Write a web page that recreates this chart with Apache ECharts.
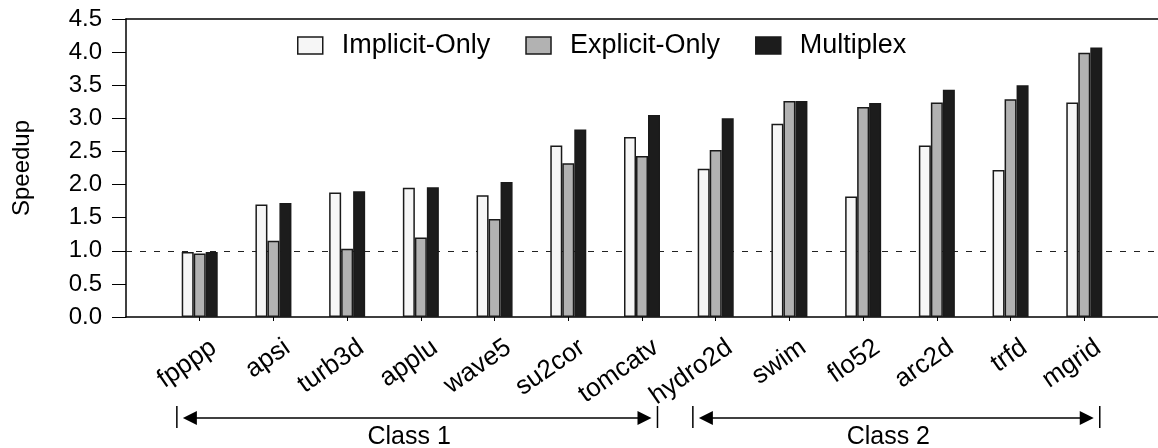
<!DOCTYPE html>
<html>
<head>
<meta charset="utf-8">
<script src="https://cdn.jsdelivr.net/npm/echarts@6/dist/echarts.min.js"></script>
<style>
html,body{margin:0;padding:0;background:#fff;}
#chart{width:1158px;height:448px;}
</style>
</head>
<body>
<div id="chart"></div>
<script>
// ---- data ----
const categories = ['fpppp','apsi','turb3d','applu','wave5','su2cor','tomcatv','hydro2d','swim','flo52','arc2d','trfd','mgrid'];
const implicitOnly = [0.98,1.70,1.88,1.95,1.84,2.59,2.72,2.24,2.92,1.82,2.59,2.22,3.24];
const explicitOnly = [0.96,1.15,1.03,1.20,1.48,2.32,2.43,2.52,3.26,3.17,3.24,3.29,3.99];
const multiplex    = [0.98,1.72,1.90,1.96,2.04,2.83,3.05,3.00,3.26,3.23,3.43,3.50,4.07];
const seriesNames = ['Implicit-Only','Explicit-Only','Multiplex'];
const yMin = 0, yMax = 4.5, yStep = 0.5;
const baseline = 1.0;
const classNames = ['Class 1','Class 2'];
const classFrom = [0, 7];
const classTo = [6, 12];

// ---- helpers ----
const FONT = "'Liberation Sans', Arial, Helvetica, sans-serif";
const padCats = [''].concat(categories, ['']);
const pad = arr => [null].concat(arr, [null]);
const fills = ['#f6f6f6', '#b2b2b2', '#1c1c1c'];
const values = [implicitOnly, explicitOnly, multiplex];

const chart = echarts.init(document.getElementById('chart'), null, {renderer: 'canvas'});

const series = seriesNames.map((name, k) => ({
  name: name,
  type: 'bar',
  xAxisIndex: 0, yAxisIndex: 0,
  data: pad(values[k]),
  barWidth: 12,
  barGap: '0%',
  z: 2,
  itemStyle: {color: fills[k], borderColor: '#1a1a1a', borderWidth: 1.5},
  emphasis: {disabled: true},
  markLine: k === 0 ? {
    silent: true, symbol: 'none', z: 1,
    label: {show: false},
    lineStyle: {color: '#222', type: [6, 8], width: 1},
    data: [{yAxis: baseline}]
  } : undefined
}));

const option = {
  animation: false,
  backgroundColor: '#fff',
  textStyle: {fontFamily: FONT, color: '#000'},
  legend: {
    data: seriesNames,
    left: 297, top: 32, padding: 0,
    icon: 'rect',
    itemWidth: 25, itemHeight: 17,
    itemGap: 35,
    itemStyle: {borderColor: '#1a1a1a', borderWidth: 1.5},
    textStyle: {fontFamily: FONT, fontSize: 27, color: '#000', padding: [0, 0, 0, 14]}
  },
  grid: [
    {left: 126, right: 0, top: 19, bottom: 131, outerBoundsMode: 'none', containLabel: false},
    {left: 126 + 14, right: -14, top: 19, bottom: 131, outerBoundsMode: 'none', containLabel: false}
  ],
  xAxis: [
    {
      type: 'category', gridIndex: 0, data: padCats, boundaryGap: false,
      axisLine: {lineStyle: {color: '#000', width: 1.5}},
      axisTick: {show: true, length: 4, inside: false, lineStyle: {color: '#000', width: 1},
                 interval: (i) => i > 0 && i < padCats.length - 1},
      axisLabel: {show: false},
      splitLine: {show: false}
    },
    {
      type: 'category', gridIndex: 0, data: padCats, boundaryGap: false, position: 'top',
      axisLine: {lineStyle: {color: '#000', width: 1.5}},
      axisTick: {show: false}, axisLabel: {show: false}, splitLine: {show: false}
    },
    {
      type: 'category', gridIndex: 1, data: padCats, boundaryGap: false,
      axisLine: {show: false}, axisTick: {show: false}, splitLine: {show: false},
      axisLabel: {show: true, interval: 0, rotate: 35, margin: 28, fontSize: 26, fontFamily: FONT, color: '#000'}
    }
  ],
  yAxis: [
    {
      type: 'value', gridIndex: 0, min: yMin, max: yMax, interval: yStep,
      name: 'Speedup', nameLocation: 'middle', nameGap: 92,
      nameTextStyle: {fontSize: 24, fontFamily: FONT, color: '#000'},
      axisLine: {show: true, lineStyle: {color: '#000', width: 1.5}},
      axisTick: {show: true, length: 14, inside: false, lineStyle: {color: '#000', width: 1}},
      axisLabel: {margin: 24, fontSize: 24, fontFamily: FONT, color: '#000', formatter: v => v.toFixed(1)},
      splitLine: {show: false}
    },
    {
      type: 'value', gridIndex: 1, min: yMin, max: yMax, show: false
    }
  ],
  series: series
};

chart.setOption(option);

// ---- class annotations, positioned from the category axis ----
function px(i) { return chart.convertToPixel({xAxisIndex: 0}, i + 1); }
const step = px(1) - px(0);
const lineY = 418, barTop = 406, barBot = 428;
const graphics = [];
classNames.forEach((name, g) => {
  const x1 = px(classFrom[g]) - 0.31 * step;
  const x2 = px(classTo[g]) + 0.21 * step;
  const ls = {stroke: '#000', lineWidth: 1.5};
  graphics.push({type: 'line', shape: {x1: x1, y1: barTop, x2: x1, y2: barBot}, style: ls});
  graphics.push({type: 'line', shape: {x1: x2, y1: barTop, x2: x2, y2: barBot}, style: ls});
  graphics.push({type: 'line', shape: {x1: x1 + 14, y1: lineY, x2: x2 - 14, y2: lineY}, style: ls});
  graphics.push({type: 'polygon', shape: {points: [[x1 + 6, lineY], [x1 + 20, lineY - 7], [x1 + 20, lineY + 7]]}, style: {fill: '#000'}});
  graphics.push({type: 'polygon', shape: {points: [[x2 - 6, lineY], [x2 - 20, lineY - 7], [x2 - 20, lineY + 7]]}, style: {fill: '#000'}});
  graphics.push({type: 'text', x: (x1 + x2) / 2 - 8, y: 437,
    style: {text: name, fill: '#000', font: '25px ' + FONT, textAlign: 'center', textVerticalAlign: 'middle'}});
});
chart.setOption({graphic: graphics});
</script>
</body>
</html>
